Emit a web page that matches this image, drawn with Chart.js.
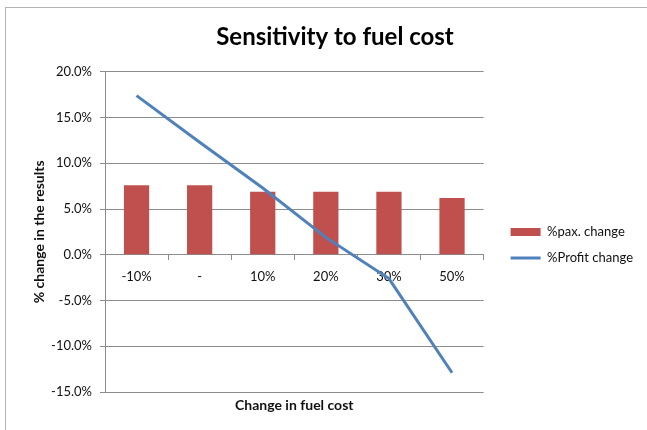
<!DOCTYPE html>
<html>
<head>
<meta charset="utf-8">
<title>Sensitivity to fuel cost</title>
<script src="https://cdn.jsdelivr.net/npm/chart.js@4/dist/chart.umd.min.js"></script>
<style>
  body { margin: 0; background: #fff; }
  #wrap { position: relative; width: 647px; height: 430px; overflow: hidden; }
  #frame {
    position: absolute; left: 5px; top: 7px; width: 700px; height: 500px;
    border: 1px solid #b4b4b4; pointer-events: none;
  }
  canvas { position: absolute; left: 0; top: 0; }
</style>
</head>
<body>
<div id="wrap">
  <canvas id="fuelChart" width="647" height="430"></canvas>
  <div id="frame"></div>
</div>
<script>
// fuel cost scenarios and the effect on passengers / profit (in %)
var categories = ['-10%', '-', '10%', '20%', '30%', '50%'];
var paxChange = [7.6, 7.6, 6.9, 6.9, 6.9, 6.2];
var profitChange = [17.4, 12.3, 7.3, 1.9, -2.6, -12.9];
var yMin = -15, yMax = 20, yStep = 5;

var font = 'Lato, "Open Sans", sans-serif';
var gridGray = '#8c8c8c';

// move the title and legend a bit, like the excel layout
var boxNudge = {
  id: 'boxNudge',
  afterLayout: function(chart) {
    var lg = chart.legend;
    lg.left += 14; lg.right += 14;
    lg.top += 30; lg.bottom += 30;
    var tb = chart.titleBlock;
    tb.left += 18; tb.right += 18;
  }
};

var ctx = document.getElementById('fuelChart');
var myChart = new Chart(ctx, {
  type: 'bar',
  data: {
    labels: categories,
    datasets: [
      {
        label: '%pax. change',
        data: paxChange,
        backgroundColor: '#C0504D',
        categoryPercentage: 1,
        barPercentage: 0.4,
        pointStyle: 'rect',
        order: 1
      },
      {
        type: 'line',
        label: '%Profit change',
        data: profitChange,
        borderColor: '#4F81BD',
        backgroundColor: '#4F81BD',
        borderWidth: 3,
        pointRadius: 0,
        tension: 0,
        pointStyle: 'line',
        order: 0
      }
    ]
  },
  plugins: [boxNudge],
  options: {
    responsive: false,
    animation: false,
    devicePixelRatio: 1,
    layout: { padding: { left: 5, right: 18, top: 0, bottom: 0 } },
    scales: {
      x: {
        position: { y: 0 },
        offset: true,
        grid: { drawOnChartArea: false, drawTicks: true, tickLength: 5, color: gridGray },
        border: { color: gridGray },
        ticks: { color: '#111', font: { family: font, size: 13 }, padding: 9 }
      },
      // bottom axis only carries the title
      x2: {
        type: 'category',
        position: 'bottom',
        labels: categories,
        grid: { display: false },
        border: { display: false },
        ticks: { display: false },
        title: {
          display: true,
          text: 'Change in fuel cost',
          color: '#111',
          font: { family: font, size: 14, weight: 'bold' },
          padding: { top: 0, bottom: 16 }
        },
        afterFit: function(scale) { scale.height = 38; }
      },
      y: {
        min: yMin,
        max: yMax,
        ticks: {
          stepSize: yStep,
          color: '#111',
          font: { family: font, size: 13 },
          padding: 8,
          callback: function(v) { return v.toFixed(1) + '%'; }
        },
        grid: { color: gridGray, tickLength: 5 },
        border: { color: gridGray },
        title: {
          display: true,
          text: '% change in the results',
          color: '#111',
          font: { family: font, size: 14, weight: 'bold' },
          padding: { top: 26, bottom: 0 }
        },
        afterFit: function(scale) { scale.width = 100; }
      }
    },
    plugins: {
      title: {
        display: true,
        text: 'Sensitivity to fuel cost',
        color: '#000',
        font: { family: font, size: 24, weight: 'bold' },
        padding: { top: 23, bottom: 20 }
      },
      legend: {
        position: 'right',
        labels: {
          usePointStyle: true,
          pointStyleWidth: 30,
          boxHeight: 8,
          padding: 13,
          color: '#111',
          font: { family: font, size: 13 },
          sort: function(a, b) { return a.datasetIndex - b.datasetIndex; }
        }
      },
      tooltip: { enabled: false }
    }
  }
});
</script>
</body>
</html>
